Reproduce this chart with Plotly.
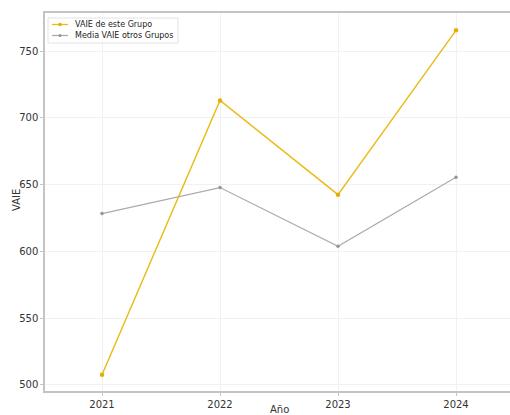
import plotly.graph_objects as go

years = [2021, 2022, 2023, 2024]
vaie_grupo = [507.7, 713.0, 642.5, 765.5]
vaie_otros = [628.3, 647.8, 603.8, 655.6]
series_names = ["VAIE de este Grupo", "Media VAIE otros Grupos"]
series_colors = ["#e9bb14", "#ababab"]
marker_colors = ["#e3b000", "#969696"]
y_ticks = [500, 550, 600, 650, 700, 750]

FONT = "DejaVu Sans"

fig = go.Figure()
fig.add_trace(go.Scatter(
    x=years, y=vaie_grupo, mode="lines+markers", name=series_names[0],
    line=dict(color=series_colors[0], width=1.4),
    marker=dict(color=marker_colors[0], size=4.5),
    showlegend=False,
))
fig.add_trace(go.Scatter(
    x=years, y=vaie_otros, mode="lines+markers", name=series_names[1],
    line=dict(color=series_colors[1], width=1.2),
    marker=dict(color=marker_colors[1], size=3.5),
    showlegend=False,
))

W, H = 516, 415
L, R, T, B = 45, 0, 13, 24
pw, ph = W - L - R, H - T - B


def px(x):
    return (x - L) / pw


def py(y):
    return (H - B - y) / ph


# compact legend box (matplotlib style)
shapes = [dict(type="rect", xref="paper", yref="paper",
               x0=px(48), x1=px(178), y0=py(43), y1=py(18),
               line=dict(color="#e2e2e2", width=1), fillcolor="rgba(255,255,255,0.85)",
               layer="above")]
annotations = []
row_y = [24.5, 35.5]
for i, name in enumerate(series_names):
    shapes.append(dict(type="line", xref="paper", yref="paper",
                       x0=px(52), x1=px(68), y0=py(row_y[i]), y1=py(row_y[i]),
                       line=dict(color=series_colors[i], width=1.3), layer="above"))
    r = 1.8 if i == 0 else 1.5
    shapes.append(dict(type="circle", xref="paper", yref="paper",
                       x0=px(60 - r), x1=px(60 + r), y0=py(row_y[i] + r), y1=py(row_y[i] - r),
                       line=dict(width=0), fillcolor=marker_colors[i], layer="above"))
    annotations.append(dict(text=name, xref="paper", yref="paper",
                            x=px(73), y=py(row_y[i]), xanchor="left", yanchor="middle",
                            showarrow=False, font=dict(family=FONT, size=8, color="#222222")))

annotations += [
    dict(text="Año", x=px(279), y=py(409), xref="paper", yref="paper",
         showarrow=False, xanchor="center", yanchor="middle",
         font=dict(family=FONT, size=10, color="#333333")),
    dict(text="VAIE", x=px(17), y=py(200), xref="paper", yref="paper",
         textangle=-90, showarrow=False, xanchor="center", yanchor="middle",
         font=dict(family=FONT, size=10, color="#333333")),
]

fig.update_layout(
    width=W, height=H,
    margin=dict(l=L, r=R, t=T, b=B, autoexpand=False),
    paper_bgcolor="white", plot_bgcolor="white",
    font=dict(family=FONT, size=10, color="#333333"),
    showlegend=False,
    xaxis=dict(
        range=[2021 - (102 - 45) / 118, 2021 + (W - 102) / 118], automargin=False,
        tickmode="array", tickvals=years, ticktext=[str(y) for y in years],
        showgrid=True, gridcolor="#f1f1f1", gridwidth=1,
        showline=True, linecolor="#c4c4c4", linewidth=1.5, mirror=True,
        ticks="outside", ticklen=3, tickcolor="#c4c4c4",
        zeroline=False,
        tickfont=dict(family=FONT, size=10, color="#333333"),
    ),
    yaxis=dict(
        range=[495.5, 778.5], automargin=False,
        tickmode="array", tickvals=y_ticks,
        showgrid=True, gridcolor="#f1f1f1", gridwidth=1,
        showline=True, linecolor="#c4c4c4", linewidth=1.5, mirror=False,
        ticks="outside", ticklen=3, tickcolor="#c4c4c4",
        zeroline=False,
        tickfont=dict(family=FONT, size=10, color="#333333"),
    ),
    shapes=shapes,
    annotations=annotations,
)

fig.write_html(
    "out.html",
    config={"displayModeBar": False},
    post_script=(
        "document.documentElement.style.overflow='hidden';"
        "document.body.style.margin='0';document.body.style.overflow='hidden';"
    ),
)
